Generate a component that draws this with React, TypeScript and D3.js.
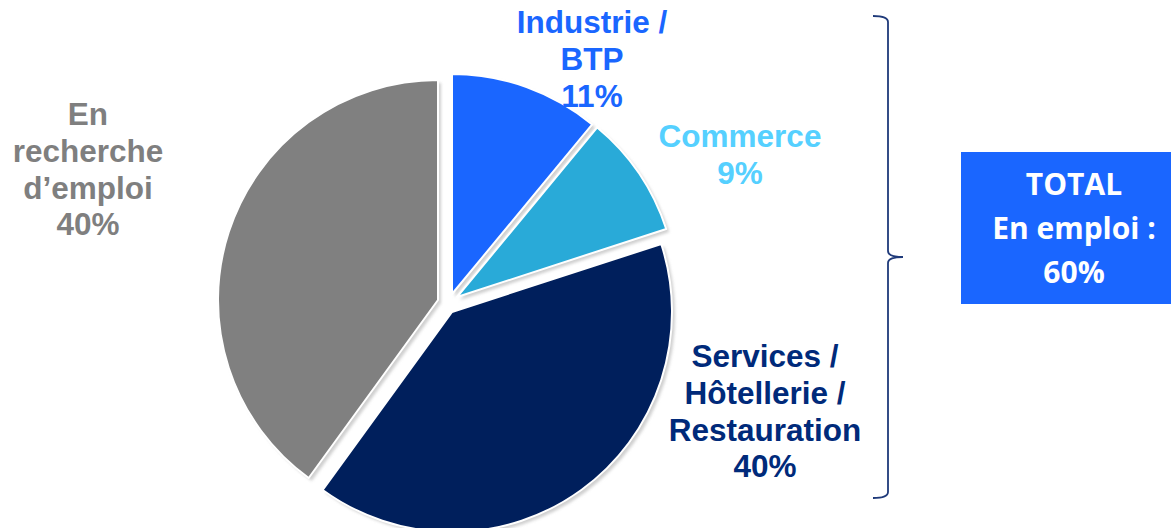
import React from "react";
import * as d3 from "d3";

const categories = ["Industrie / BTP", "Commerce", "Services / Hôtellerie / Restauration", "En recherche d’emploi"];
const values = [11, 9, 40, 40];
const sliceColors = ["#1a66ff", "#29aad8", "#001f5c", "#808080"];
const labelLines = [
  ["Industrie /", "BTP", "11%"],
  ["Commerce", "9%"],
  ["Services /", "Hôtellerie /", "Restauration", "40%"],
  ["En", "recherche", "d’emploi", "40%"],
];
const labelColors = ["#1a66ff", "#55d0ff", "#002a7a", "#7f7f7f"];
const totalLines = ["TOTAL", "En emploi :", "60%"];

// layout
const W = 1171;
const H = 528;
const R = 220;
const apexes: [number, number][] = [
  [452, 294],
  [457, 297],
  [452, 312],
  [438, 300],
];
const labelPos: [number, number][] = [
  [592, 33],
  [740, 147],
  [765, 367],
  [88, 125],
];
const lineH = 36.8;

export default function App() {
  const pie = d3.pie<number>().sort(null).value((d) => d)(values);
  const arc = d3.arc<d3.PieArcDatum<number>>().innerRadius(0).outerRadius(R);

  return (
    <svg width={W} height={H} style={{ position: "absolute", left: 0, top: 0 }}>
      <defs>
        <filter id="blur" x="-10%" y="-10%" width="120%" height="120%">
          <feGaussianBlur stdDeviation="1.6" />
        </filter>
      </defs>
      <rect width={W} height={H} fill="#fff" />
      {pie.map((p, i) => (
        <path
          key={"s" + i}
          d={arc(p) || ""}
          transform={`translate(${apexes[i][0] + 3},${apexes[i][1] + 3})`}
          fill="#cfcfcf"
          filter="url(#blur)"
        />
      ))}
      {pie.map((p, i) => (
        <path
          key={"p" + i}
          d={arc(p) || ""}
          transform={`translate(${apexes[i][0]},${apexes[i][1]})`}
          fill={sliceColors[i]}
          stroke="#fff"
          strokeWidth={2}
          strokeLinejoin="round"
        >
          <title>{categories[i]}</title>
        </path>
      ))}
      {labelLines.map((lines, i) => (
        <text
          key={"l" + i}
          x={labelPos[i][0]}
          y={labelPos[i][1]}
          textAnchor="middle"
          fontFamily="'Liberation Sans', Arial, sans-serif"
          fontWeight="bold"
          fontSize={31.5}
          fill={labelColors[i]}
        >
          {lines.map((t, j) => (
            <tspan key={j} x={labelPos[i][0]} y={labelPos[i][1] + j * lineH}>
              {t}
            </tspan>
          ))}
        </text>
      ))}
      <path
        d="M873,16 Q888,16 888,22 L888,251 Q888,257 903,257 Q888,257 888,263 L888,492 Q888,498 873,498"
        fill="none"
        stroke="#1f3a7a"
        strokeWidth={1.8}
      />
      <rect x={961} y={152} width={210} height={152} fill="#1a66ff" />
      <text
        textAnchor="middle"
        fontFamily="'Open Sans', Lato, sans-serif"
        fontWeight="bold"
        fontSize={30}
        fill="#fff"
      >
        {totalLines.map((t, j) => (
          <tspan key={j} x={1074} y={195 + j * 44}>
            {t}
          </tspan>
        ))}
      </text>
    </svg>
  );
}
